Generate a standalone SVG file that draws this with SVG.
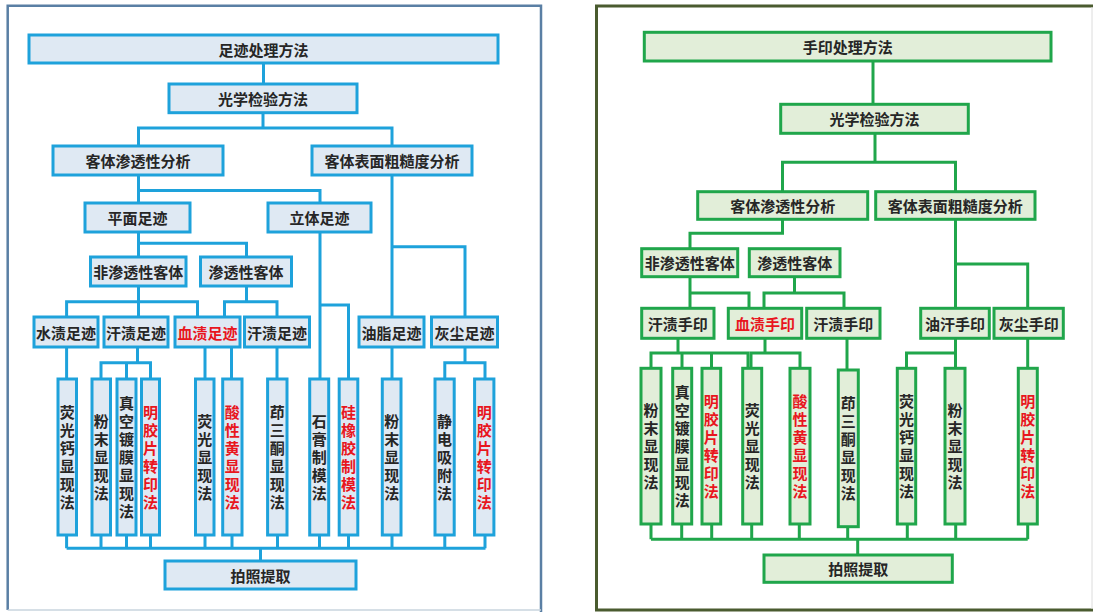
<svg xmlns="http://www.w3.org/2000/svg" width="1094" height="612" viewBox="0 0 1094 612">
<style>
.bl{fill:#dfe9f3;stroke:#1ea2db;stroke-width:3}
.bg{fill:#e2eed9;stroke:#20a64b;stroke-width:3}
.cl{fill:none;stroke:#1ea2db;stroke-width:3}
.cg{fill:none;stroke:#20a64b;stroke-width:3}
.t{font-family:"Noto Sans CJK SC","Noto Sans",sans-serif;font-size:15px;font-weight:700;text-anchor:middle;dominant-baseline:central;fill:#262626}
.v{writing-mode:vertical-rl;letter-spacing:3px}
.r{fill:#e8161e}
</style>
<rect x="0" y="0" width="1094" height="612" fill="#ffffff"/>
<g id="frames">
<path d="M7.7 610 V5.7 H541 V612" fill="none" stroke="#5a7fa4" stroke-width="2.5"/>
<path d="M7.7 610 H541" fill="none" stroke="#c9d4de" stroke-width="1.5"/>
<path d="M1093 6 H596.5 V610 H1093" fill="none" stroke="#4a5b2f" stroke-width="3"/>
<path d="M1092 7 V609" fill="none" stroke="#dcdcdc" stroke-width="1"/>
</g>
<g id="connectors-left" class="cl">
<path d="M263.5 63 V84"/>
<path d="M263 112.7 V128 M138.5 146 V128 H392 V146"/>
<path d="M138.5 175 V203 M138.5 190.5 H320 V203"/>
<path d="M392 175 V317 M392 246.7 H465 V317"/>
<path d="M138.5 232 V257 M138.5 243.3 H246.5 V257"/>
<path d="M320 232 V379 M320 305 H348.5 V379"/>
<path d="M66.6 317 V301.7 H197.5 V317 M138.5 286 V317"/>
<path d="M246.5 286 V301.7 M224.5 317 V301.7 H277 V317"/>
<path d="M66.6 347 V379"/>
<path d="M137.5 347 V362.7 M101 379 V362.7 H150.5 V379 M126.5 362.7 V379"/>
<path d="M205 347 V379 M231.5 347 V379"/>
<path d="M277 347 V379"/>
<path d="M392 347 V379"/>
<path d="M465 347 V362.7 M444.8 379 V362.7 H485 V379"/>
<path d="M66.6 535 V548.3 M101 535 V548.3 M126.5 535 V548.3 M150.5 535 V548.3 M205 535 V548.3 M232 535 V548.3 M277.5 535 V548.3 M319.5 535 V548.3 M348.5 535 V548.3 M392 535 V548.3 M444.8 535 V548.3 M485 535 V548.3"/>
<path d="M66.6 548.3 H485.5 M260.5 548.3 V561"/>
</g>
<g id="connectors-right" class="cg">
<path d="M873 61 V104.3"/>
<path d="M875 133.3 V162.3 M782.5 191.7 V162.3 H955.5 V191.7"/>
<path d="M782.5 219.3 V233.3 H690 V248.7"/>
<path d="M955.5 219.3 V308.3 M955.5 264 H1027.7 V308.3"/>
<path d="M690 276.7 V308.3 M690 293 H749 V308.3"/>
<path d="M794.5 276.7 V293 M764 308.3 V293 H844 V308.3"/>
<path d="M678 338.3 V353 M651 368.3 V353 H748 V368.3 M682 353 V368.3 M711.5 353 V368.3"/>
<path d="M765 338.3 V353 M751 368.3 V353 H800 V368.3"/>
<path d="M847 338.3 V370"/>
<path d="M955.5 338.3 V368.3 M906.5 368.3 V353 H955.5"/>
<path d="M1027.7 338.3 V368.3"/>
<path d="M651 524 V539.3 M681.7 524 V539.3 M711.7 524 V539.3 M751.7 524 V539.3 M799.3 524 V539.3 M847.7 526.7 V539.3 M907.3 524 V539.3 M955.7 524 V539.3 M1027.7 524 V539.3"/>
<path d="M651 539.3 H1027.7 M857.7 539.3 V555"/>
</g>
<g id="L0"><rect class="bl" x="29" y="35" width="469" height="28"/><text class="t" x="263.5" y="49">足迹处理方法</text></g>
<g id="L1"><rect class="bl" x="169" y="84" width="188" height="28.7"/><text class="t" x="263" y="98.3">光学检验方法</text></g>
<g id="L2"><rect class="bl" x="53" y="146" width="170" height="29"/><text class="t" x="138" y="160.5">客体渗透性分析</text></g>
<g id="L3"><rect class="bl" x="312" y="146" width="160" height="29"/><text class="t" x="392" y="160.5">客体表面粗糙度分析</text></g>
<g id="L4"><rect class="bl" x="85" y="203" width="105" height="29"/><text class="t" x="137.5" y="217.5">平面足迹</text></g>
<g id="L5"><rect class="bl" x="268" y="203" width="103" height="29"/><text class="t" x="319.5" y="217.5">立体足迹</text></g>
<g id="L6"><rect class="bl" x="90.5" y="257" width="95.5" height="29"/><text class="t" x="138.25" y="271.5">非渗透性客体</text></g>
<g id="L7"><rect class="bl" x="200.5" y="257" width="91" height="29"/><text class="t" x="246" y="271.5">渗透性客体</text></g>
<g id="L8"><rect class="bl" x="34" y="317" width="64" height="30"/><text class="t" x="66" y="332">水渍足迹</text></g>
<g id="L9"><rect class="bl" x="104" y="317" width="64" height="30"/><text class="t" x="136" y="332">汗渍足迹</text></g>
<g id="L10"><rect class="bl" x="175" y="317" width="65" height="30"/><text class="t r" x="207.5" y="332">血渍足迹</text></g>
<g id="L11"><rect class="bl" x="244.5" y="317" width="65" height="30"/><text class="t" x="277" y="332">汗渍足迹</text></g>
<g id="L12"><rect class="bl" x="359" y="317" width="65" height="30"/><text class="t" x="391.5" y="332">油脂足迹</text></g>
<g id="L13"><rect class="bl" x="431.5" y="317" width="66" height="30"/><text class="t" x="464.5" y="332">灰尘足迹</text></g>
<g id="L14"><rect class="bl" x="58" y="379" width="18.5" height="156"/><text class="t v" x="67.25" y="458.5">荧光钙显现法</text></g>
<g id="L15"><rect class="bl" x="92" y="379" width="18.5" height="156"/><text class="t v" x="101.25" y="458.5">粉末显现法</text></g>
<g id="L16"><rect class="bl" x="117" y="379" width="19" height="156"/><text class="t v" x="126.5" y="458.5">真空镀膜显现法</text></g>
<g id="L17"><rect class="bl" x="141.5" y="379" width="18" height="156"/><text class="t v r" x="150.5" y="458.5">明胶片转印法</text></g>
<g id="L18"><rect class="bl" x="195.5" y="379" width="18.5" height="156"/><text class="t v" x="204.75" y="458.5">荧光显现法</text></g>
<g id="L19"><rect class="bl" x="222.7" y="379" width="19.3" height="156"/><text class="t v r" x="232.35" y="458.5">酸性黄显现法</text></g>
<g id="L20"><rect class="bl" x="267.6" y="379" width="19.4" height="156"/><text class="t v" x="277.3" y="458.5">茚三酮显现法</text></g>
<g id="L21"><rect class="bl" x="309.7" y="379" width="19" height="156"/><text class="t v" x="319.2" y="458.5">石膏制模法</text></g>
<g id="L22"><rect class="bl" x="339.2" y="379" width="18.6" height="156"/><text class="t v r" x="348.5" y="458.5">硅橡胶制模法</text></g>
<g id="L23"><rect class="bl" x="382.3" y="379" width="18.7" height="156"/><text class="t v" x="391.65" y="458.5">粉末显现法</text></g>
<g id="L24"><rect class="bl" x="435" y="379" width="19.2" height="156"/><text class="t v" x="444.6" y="458.5">静电吸附法</text></g>
<g id="L25"><rect class="bl" x="474.6" y="379" width="19.3" height="156"/><text class="t v r" x="484.25" y="458.5">明胶片转印法</text></g>
<g id="L26"><rect class="bl" x="165" y="561" width="191" height="28"/><text class="t" x="260.5" y="575">拍照提取</text></g>
<g id="R0"><rect class="bg" x="644.3" y="32.3" width="406.7" height="28.7"/><text class="t" x="847.7" y="46.7">手印处理方法</text></g>
<g id="R1"><rect class="bg" x="780.7" y="104.3" width="187.6" height="29"/><text class="t" x="874.5" y="118.8">光学检验方法</text></g>
<g id="R2"><rect class="bg" x="697.7" y="191.7" width="170" height="27.6"/><text class="t" x="782.7" y="205.5">客体渗透性分析</text></g>
<g id="R3"><rect class="bg" x="875.7" y="191.7" width="159.3" height="27.6"/><text class="t" x="955.3" y="205.5">客体表面粗糙度分析</text></g>
<g id="R4"><rect class="bg" x="641.7" y="248.7" width="96" height="28"/><text class="t" x="689.7" y="262.7">非渗透性客体</text></g>
<g id="R5"><rect class="bg" x="749.3" y="248.7" width="90.7" height="28"/><text class="t" x="794.65" y="262.7">渗透性客体</text></g>
<g id="R6"><rect class="bg" x="641.7" y="308.3" width="72.3" height="30"/><text class="t" x="677.85" y="323.3">汗渍手印</text></g>
<g id="R7"><rect class="bg" x="728.3" y="308.3" width="73.4" height="30"/><text class="t r" x="765" y="323.3">血渍手印</text></g>
<g id="R8"><rect class="bg" x="806.7" y="308.3" width="73.3" height="30"/><text class="t" x="843.35" y="323.3">汗渍手印</text></g>
<g id="R9"><rect class="bg" x="920.7" y="308.3" width="68.6" height="30"/><text class="t" x="955" y="323.3">油汗手印</text></g>
<g id="R10"><rect class="bg" x="994" y="308.3" width="69.3" height="30"/><text class="t" x="1028.65" y="323.3">灰尘手印</text></g>
<g id="R11"><rect class="bg" x="641" y="368.3" width="20" height="155.7"/><text class="t v" x="651" y="447.5">粉末显现法</text></g>
<g id="R12"><rect class="bg" x="672.7" y="368.3" width="19" height="155.7"/><text class="t v" x="682.2" y="447.5">真空镀膜显现法</text></g>
<g id="R13"><rect class="bg" x="702" y="368.3" width="18.7" height="155.7"/><text class="t v r" x="711.35" y="447.5">明胶片转印法</text></g>
<g id="R14"><rect class="bg" x="742.7" y="368.3" width="19" height="155.7"/><text class="t v" x="752.2" y="447.5">荧光显现法</text></g>
<g id="R15"><rect class="bg" x="790" y="368.3" width="20" height="155.7"/><text class="t v r" x="800" y="447.5">酸性黄显现法</text></g>
<g id="R16"><rect class="bg" x="838.3" y="370" width="20" height="156.7"/><text class="t v" x="848.3" y="449.5">茚三酮显现法</text></g>
<g id="R17"><rect class="bg" x="897.3" y="368.3" width="18.4" height="155.7"/><text class="t v" x="906.5" y="447.5">荧光钙显现法</text></g>
<g id="R18"><rect class="bg" x="945" y="368.3" width="20" height="155.7"/><text class="t v" x="955" y="447.5">粉末显现法</text></g>
<g id="R19"><rect class="bg" x="1018.3" y="368.3" width="19" height="155.7"/><text class="t v r" x="1027.8" y="447.5">明胶片转印法</text></g>
<g id="R20"><rect class="bg" x="764" y="555" width="188.3" height="27.3"/><text class="t" x="858.15" y="568.65">拍照提取</text></g>
</svg>
